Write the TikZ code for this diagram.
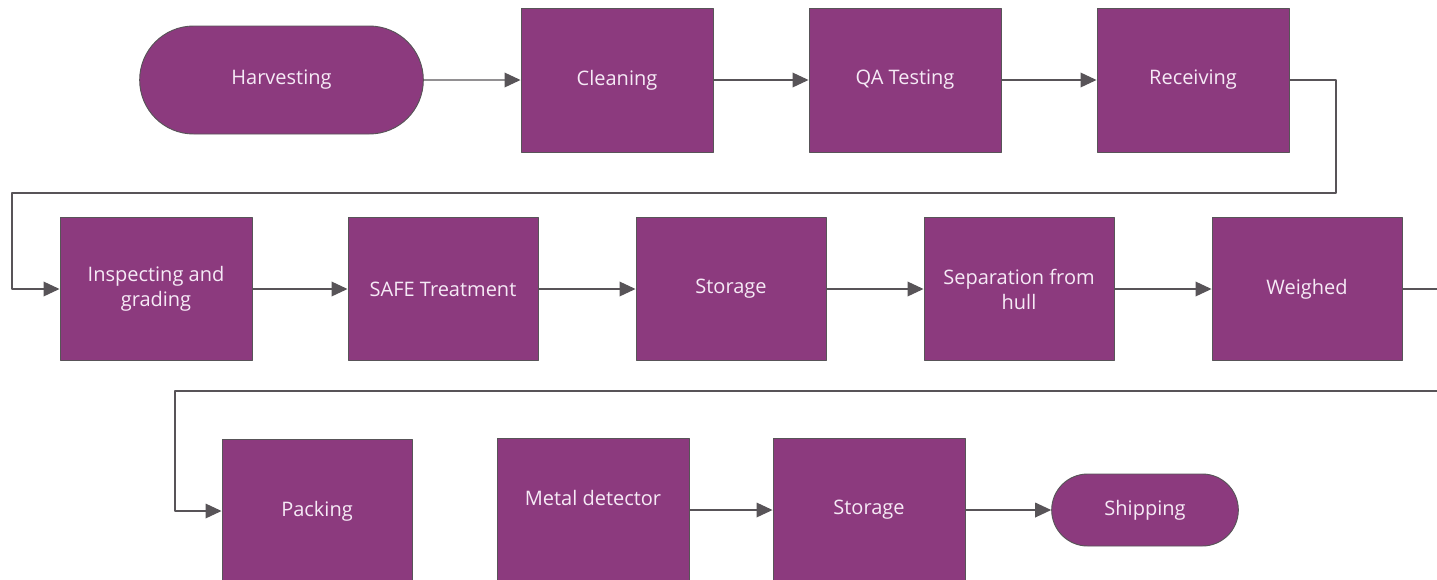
\documentclass[tikz,border=0pt]{standalone}
\usepackage{fontspec}
\setmainfont{Open Sans}
\usetikzlibrary{arrows.meta,shapes.misc}
\definecolor{stepfill}{RGB}{140,58,126}
\definecolor{linegray}{RGB}{88,84,88}
\definecolor{labeltext}{RGB}{246,234,246}
\tikzset{
  process/.style={draw=linegray, line width=0.7pt, fill=stepfill, text=labeltext,
    minimum width=144pt, minimum height=107pt, inner sep=2pt, align=center,
    font=\fontsize{15}{18.75}\selectfont},
  terminal/.style={process, rounded rectangle},
  flow/.style={draw=linegray, line width=1pt, -{Triangle[length=12pt,width=11pt]}}
}
\begin{document}
\begin{tikzpicture}[x=0.75pt, y=-0.75pt, line join=round]
                \useasboundingbox (0,0) rectangle (1437,579);
                \clip (0,0) rectangle (1437,579);
                % first row
                \node[terminal, minimum width=216.75pt, minimum height=81pt] (harv) at (281.5,80) {Harvesting};
                \node[process, minimum height=108pt] (clean) at (617,80) {Cleaning};
                \node[process, minimum height=108pt] (qa) at (905,80) {QA Testing};
                \node[process, minimum height=108pt] (recv) at (1193,80) {Receiving};
                % second row
                \node[process] (insp) at (156,289) {Inspecting and\\grading};
                \node[process, minimum width=142.5pt] (safe) at (443,289) {SAFE Treatment};
                \node[process, minimum width=142.5pt] (stor1) at (731,289) {Storage};
                \node[process, minimum width=142.5pt] (sep) at (1019,289) {Separation from\\hull};
                \node[process, minimum width=142.5pt] (weigh) at (1307,289) {Weighed};
                % third row
                \node[process, minimum width=142.5pt] (pack) at (317,511) {Packing};
                \node[process] (metal) at (593,510) {Metal detector\\\mbox{}};
                \node[process] (stor2) at (869,510) {Storage};
                \node[terminal, minimum width=144pt, minimum height=54pt] (ship) at (1145,510) {Shipping};
                \coordinate (r1) at (1336,193);
                \coordinate (l1) at (12,193);
                \coordinate (r2) at (1460,391);
                \coordinate (l2) at (175,391);
                \foreach \a/\b in {harv/clean, clean/qa, qa/recv, insp/safe, safe/stor1, stor1/sep, sep/weigh, metal/stor2, stor2/ship}
                    \draw[flow] (\a) -- (\b);
                \draw[flow] (recv.east) -| (r1) -- (l1) |- (insp.west);
                \draw[flow] (weigh.east) -| (r2) -- (l2) |- (pack.west);
            \end{tikzpicture}
\end{document}
